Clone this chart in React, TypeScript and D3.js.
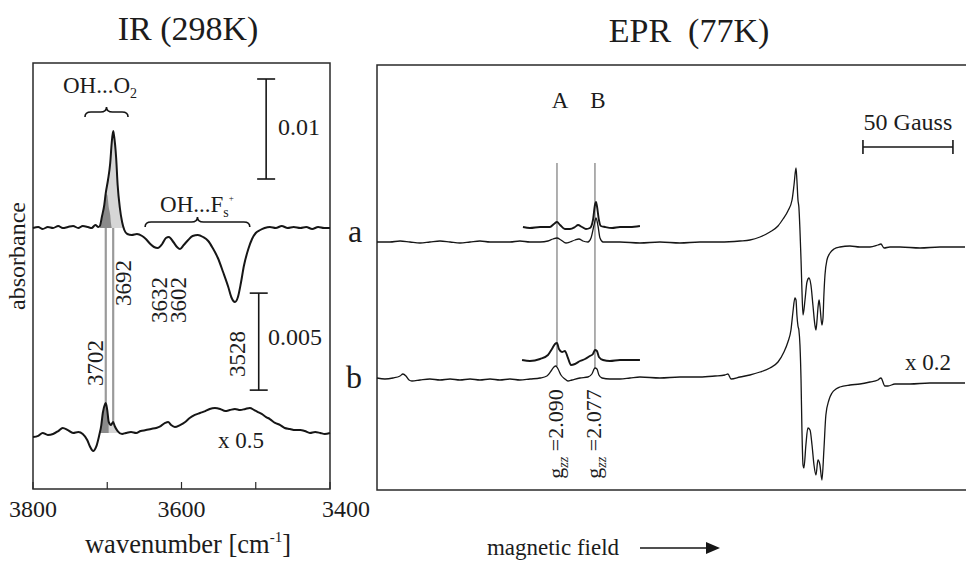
import React from "react";
import * as d3 from "d3";

const W = 966;
const H = 561;
const FONT = "'Liberation Serif', 'Times New Roman', serif";
const INK = "#161616";

// ---------- IR difference spectra (wavenumber cm-1, absorbance x 10^-3) ----------
const irTraceA: [number, number][] = [
  [3800, 0], [3793, 0.1], [3787, -0.1], [3780, 0.1], [3773, 0], [3766, 0.2], [3760, 0],
  [3753, 0.1], [3746, 0.2], [3739, 0], [3733, 0.2], [3726, 0.1], [3721, 0], [3716, 0.3],
  [3712, 0.1], [3710, 0.2], [3707, 1.2], [3704, 2.3], [3702, 3.5], [3699, 4.8], [3696, 6.5],
  [3694, 8.5], [3692, 9.7], [3691, 9.3], [3688, 7.0], [3686, 4.3], [3683, 2.0], [3680, 0.6],
  [3677, -0.2], [3673, -0.6], [3667, -0.7], [3660, -0.6], [3653, -0.8], [3648, -1.1],
  [3642, -1.6], [3637, -1.9], [3632, -2.0], [3626, -1.6], [3621, -1.0], [3617, -0.9],
  [3611, -1.4], [3606, -1.9], [3602, -2.1], [3597, -1.7], [3591, -1.2], [3585, -0.8],
  [3578, -0.7], [3571, -0.9], [3564, -1.3], [3558, -2.0], [3551, -3.0], [3544, -4.4],
  [3537, -5.9], [3533, -6.9], [3528, -7.4], [3524, -6.9], [3520, -5.5], [3516, -3.8],
  [3510, -2.1], [3505, -1.1], [3500, -0.5], [3494, -0.2], [3488, 0], [3481, 0.1], [3473, 0],
  [3465, 0.2], [3457, 0], [3449, 0.1], [3440, 0], [3432, 0.1], [3424, -0.1], [3416, 0.1],
  [3408, 0], [3400, 0],
];

// 3702 cm-1 component resolved under the main band of trace a
const irBandA3702: [number, number][] = [
  [3710, 0], [3707, 0.9], [3704, 2.2], [3702, 3.4], [3700, 3.3], [3699, 2.8], [3698, 2.1],
  [3696, 1.3], [3695, 0.5], [3694, 0],
];

const irTraceB: [number, number][] = [
  [3800, -0.21], [3793, -0.15], [3787, 0], [3780, -0.1], [3773, -0.05], [3766, 0.1],
  [3760, 0.26], [3753, 0.15], [3746, 0], [3739, 0.05], [3733, -0.05], [3727, -0.36],
  [3723, -0.72], [3719, -0.93], [3715, -0.72], [3711, -0.15], [3708, 0.41], [3706, 1.03],
  [3703, 1.49], [3702, 1.55], [3700, 1.18], [3698, 0.57], [3695, 0.41], [3692, 0.57],
  [3690, 0.36], [3686, 0.1], [3680, -0.05], [3675, 0], [3668, 0.05], [3661, 0], [3655, 0.1],
  [3648, 0.15], [3641, 0.21], [3634, 0.26], [3628, 0.36], [3622, 0.52], [3618, 0.57],
  [3614, 0.41], [3609, 0.31], [3602, 0.41], [3595, 0.57], [3589, 0.77], [3582, 0.93],
  [3575, 1.03], [3568, 1.13], [3562, 1.24], [3555, 1.29], [3548, 1.24], [3541, 1.13],
  [3535, 1.18], [3528, 1.24], [3521, 1.18], [3514, 1.24], [3508, 1.29], [3502, 1.18],
  [3497, 1.08], [3492, 0.98], [3486, 0.82], [3481, 0.72], [3474, 0.52], [3467, 0.41],
  [3461, 0.26], [3454, 0.21], [3447, 0.15], [3440, 0.15], [3434, 0.1], [3427, 0],
  [3420, 0.05], [3413, 0], [3407, -0.05], [3400, 0],
];

const irTicks = [3800, 3700, 3600, 3500, 3400];
const irTickLabels = [3800, 3600, 3400];
const irPeakLines = [3702, 3692];
const irScaleBarA = [4.9, 14.9]; // 0.01
const irScaleBarB = [2.21, 7.21]; // 0.005 (trace b)

// ---------- EPR spectra (magnetic field in G, derivative intensity, arb. units) ----------
const eprTraceA: [number, number][] = [
  [3130.0, 0], [3137.2, 0], [3142.8, 1], [3148.3, 0], [3153.9, -1], [3159.4, 0], [3165.0, 1],
  [3170.6, 0], [3176.1, -1], [3181.7, 0], [3187.2, 1], [3192.8, 0], [3198.3, 0], [3203.9, 0],
  [3209.4, 1], [3215.0, 0], [3220.6, 0], [3225.0, 1], [3227.8, 3], [3230.0, 4], [3232.2, 2],
  [3235.0, -1], [3237.2, 0], [3240.0, 2], [3242.2, 3], [3244.4, 1], [3247.2, 0], [3248.9, 4],
  [3250.6, 17], [3251.7, 24], [3252.8, 16], [3253.9, 4], [3255.6, 0], [3259.4, 0], [3265.0, 0],
  [3276.1, -1], [3287.2, 0], [3298.3, -1], [3309.4, 0], [3320.6, 0], [3331.7, 1], [3337.2, 2],
  [3342.8, 5], [3348.3, 10], [3352.8, 16], [3355.6, 23], [3358.3, 31], [3360.6, 42],
  [3361.7, 57], [3362.8, 74], [3363.3, 62], [3363.9, 42], [3364.4, 35], [3365.0, 12],
  [3365.6, -18], [3366.1, -48], [3366.7, -73], [3367.8, -58], [3368.9, -40], [3370.0, -36],
  [3371.1, -43], [3372.2, -63], [3373.3, -83], [3373.9, -88], [3374.4, -80], [3375.0, -66],
  [3375.6, -58], [3376.1, -64], [3377.2, -83], [3377.8, -76], [3378.3, -53], [3378.9, -33],
  [3380.0, -18], [3381.7, -11], [3383.9, -7], [3387.2, -5], [3392.8, -4], [3398.3, -5],
  [3403.9, -5], [3408.3, -3], [3410.0, -2], [3411.7, -6], [3415.0, -5], [3420.6, -5],
  [3431.7, -6], [3442.8, -5], [3456.7, -5],
];

const eprInsetA: [number, number][] = [
  [3211.1, 0], [3215.0, -1], [3220.6, 0], [3226.1, 0], [3228.3, 3], [3230.0, 5], [3231.7, 2],
  [3234.4, -2], [3237.2, -2], [3240.0, 0], [3241.7, 2], [3243.9, 0], [3246.1, -2], [3248.3, -1],
  [3250.0, 7], [3251.1, 22], [3251.7, 25], [3252.2, 21], [3253.3, 7], [3254.4, 1], [3256.7, 0],
  [3260.6, -1], [3265.0, 0], [3270.6, 0], [3276.1, 1],
];

const eprTraceB: [number, number][] = [
  [3130.0, 0], [3134.4, -1], [3138.9, 0], [3142.8, 2], [3144.4, 4], [3146.1, 2], [3147.8, -2],
  [3149.4, -3], [3153.9, -2], [3159.4, -1], [3165.0, -2], [3170.6, -1], [3176.1, -2],
  [3181.7, -1], [3187.2, -2], [3192.8, -1], [3198.3, -2], [3203.9, -1], [3209.4, -2],
  [3215.0, -1], [3220.6, 0], [3224.4, 2], [3226.7, 7], [3228.3, 11], [3229.4, 12], [3230.6, 9],
  [3232.2, 3], [3234.4, -1], [3236.1, -3], [3238.3, -2], [3242.8, 0], [3247.2, 1], [3249.4, 4],
  [3251.1, 10], [3252.2, 9], [3253.3, 3], [3255.0, 0], [3259.4, -1], [3265.0, -1], [3270.6, 0],
  [3276.1, 1], [3287.2, 0], [3298.3, 1], [3309.4, 1], [3317.8, 2], [3323.3, 3], [3325.0, 4],
  [3326.7, -1], [3331.7, 1], [3337.2, 3], [3342.8, 6], [3348.3, 10], [3352.8, 16], [3356.1, 26],
  [3358.3, 36], [3360.0, 48], [3361.1, 66], [3362.2, 80], [3362.8, 78], [3363.3, 63],
  [3363.9, 52], [3364.4, 48], [3365.0, 33], [3365.6, -2], [3366.1, -52], [3366.7, -87],
  [3367.2, -90], [3368.3, -67], [3369.4, -50], [3370.6, -52], [3371.7, -67], [3372.8, -87],
  [3373.9, -97], [3375.0, -82], [3376.1, -87], [3377.2, -102], [3378.3, -72], [3379.4, -37],
  [3381.1, -22], [3382.8, -15], [3385.0, -11], [3387.2, -9], [3392.8, -7], [3398.3, -6],
  [3403.9, -4], [3408.3, -2], [3410.0, 0], [3412.2, -8], [3413.9, -8], [3417.8, -6],
  [3426.1, -6], [3437.2, -5], [3448.3, -5], [3456.7, -5],
];

const eprInsetB: [number, number][] = [
  [3210.6, 0], [3215.0, -1], [3220.6, 1], [3225.0, 5], [3227.2, 11], [3228.9, 16], [3230.0, 17],
  [3231.1, 11], [3232.8, 8], [3234.4, 9], [3236.1, 2], [3237.8, -5], [3240.0, -4], [3242.8, -1],
  [3245.6, 1], [3248.3, 4], [3250.0, 6], [3251.1, 10], [3252.2, 9], [3253.3, 3], [3255.6, 0],
  [3259.4, -1], [3265.0, 0], [3270.6, 0], [3276.1, 0],
];

// vertical offsets of the stacked EPR traces
const eprOffsets = { a: 0, insetA: 15, b: -136, insetB: -118 };
const eprMarkers = [
  { name: "A", field: 3230.0, g: "2.090", end: -124 },
  { name: "B", field: 3251.1, g: "2.077", end: -126 },
];
const eprMarkerTop = 79;
const eprGaussBar = [3400, 3450];
const eprGaussBarLevel = 95;

function bracePath(x1: number, x2: number, y: number, h: number) {
  const xm = (x1 + x2) / 2;
  const r = 6;
  return `M${x1},${y + h} Q${x1},${y} ${x1 + r},${y} L${xm - r},${y} Q${xm},${y} ${xm},${y - h}` +
    ` Q${xm},${y} ${xm + r},${y} L${x2 - r},${y} Q${x2},${y} ${x2},${y + h}`;
}

export default function App() {
  // IR panel geometry
  const irL = 33, irR = 330, irT = 63, irB = 489;
  const xIR = d3.scaleLinear().domain([3800, 3400]).range([irL, irR]);
  const yA = d3.scaleLinear().domain([-26.1, 16.5]).range([irB, irT]);
  const yB = d3.scaleLinear().domain([-2.887, 19.072]).range([irB, irT]);

  const lineA = d3.line<[number, number]>().x(d => xIR(d[0])).y(d => yA(d[1])).curve(d3.curveMonotoneX);
  const lineB = d3.line<[number, number]>().x(d => xIR(d[0])).y(d => yB(d[1])).curve(d3.curveMonotoneX);
  const areaA = d3.area<[number, number]>().x(d => xIR(d[0])).y0(yA(0)).y1(d => yA(Math.max(0, d[1]))).curve(d3.curveMonotoneX);
  const areaB = d3.area<[number, number]>().x(d => xIR(d[0])).y0(yB(0)).y1(d => yB(Math.max(0, d[1]))).curve(d3.curveMonotoneX);

  const lightA = irTraceA.filter(d => d[0] <= 3710 && d[0] >= 3680);
  const darkB = irTraceB.filter(d => d[0] <= 3711 && d[0] >= 3698);
  const lightB = irTraceB.filter(d => d[0] <= 3698 && d[0] >= 3686);
  const bAt = (wn: number) => (irTraceB.find(d => d[0] === wn) || [wn, 0])[1];

  // EPR panel geometry (frame runs past the right edge of the page)
  const eL = 377, eR = 965, eT = 65, eB = 490;
  const xE = d3.scaleLinear().domain([3130, 3456.7]).range([eL, eR]);
  const yE = d3.scaleLinear().domain([-248, 177]).range([eB, eT]);
  const eprLine = (off: number) =>
    d3.line<[number, number]>().x(d => xE(d[0])).y(d => yE(d[1] + off)).curve(d3.curveMonotoneX);

  const text = { fontFamily: FONT, fill: "#1c1c1c" } as const;

  return (
    <svg width={W} height={H} style={{ position: "absolute", left: 0, top: 0, background: "#fff" }}>
      {/* ================= IR ================= */}
      <text x={188} y={40} fontSize={34} textAnchor="middle" {...text}>IR (298K)</text>
      <rect x={irL} y={irT} width={irR - irL} height={irB - irT} fill="none" stroke="#2a2a2a" strokeWidth={1.5} />
      {irTicks.map(t => (
        <line key={t} x1={xIR(t)} x2={xIR(t)} y1={irB} y2={irB - 7} stroke="#2a2a2a" strokeWidth={1.2} />
      ))}
      {irTickLabels.map((t, i) => (
        <text key={t} x={xIR(t) + (i === irTickLabels.length - 1 ? 16 : 0)} y={517} fontSize={24} textAnchor="middle" {...text}>{t}</text>
      ))}
      <text x={188} y={553} fontSize={26.5} textAnchor="middle" {...text}>
        wavenumber [cm<tspan fontSize={15} dy={-11}>-1</tspan><tspan dy={11}>]</tspan>
      </text>
      <text transform="translate(25,256) rotate(-90)" fontSize={24} textAnchor="middle" {...text}>absorbance</text>

      {/* shaded band components */}
      <path d={areaA(lightA) || ""} fill="#d6d6d6" />
      <path d={areaA(irBandA3702) || ""} fill="#8a8a8a" />
      <path d={areaB(lightB) || ""} fill="#d6d6d6" />
      <path d={areaB(darkB) || ""} fill="#8a8a8a" />

      {irPeakLines.map(wn => (
        <line key={wn} x1={xIR(wn)} x2={xIR(wn)} y1={yA(0)} y2={yB(bAt(wn))} stroke="#9a9a9a" strokeWidth={2.2} />
      ))}

      <path d={lineA(irTraceA) || ""} fill="none" stroke={INK} strokeWidth={2} strokeLinejoin="round" />
      <path d={lineB(irTraceB) || ""} fill="none" stroke={INK} strokeWidth={2} strokeLinejoin="round" />

      {/* braces and band assignments */}
      <path d={bracePath(xIR(3730), xIR(3672), yA(11.6), 5)} fill="none" stroke={INK} strokeWidth={1.6} />
      <text x={100} y={93} fontSize={23} textAnchor="middle" {...text}>
        OH...O<tspan fontSize={14} dy={5}>2</tspan>
      </text>
      <path d={bracePath(xIR(3649), xIR(3508), yA(0.6), 5)} fill="none" stroke={INK} strokeWidth={1.6} />
      <text x={197} y={212} fontSize={23} textAnchor="middle" {...text}>
        OH...F<tspan fontSize={14} dy={5}>s</tspan><tspan fontSize={9} dy={-16}>+</tspan>
      </text>

      {/* peak position labels */}
      <text transform={`translate(${xIR(3702) - 3},363) rotate(-90)`} fontSize={23} textAnchor="middle" {...text}>3702</text>
      <text transform={`translate(${xIR(3692) + 18},283) rotate(-90)`} fontSize={23} textAnchor="middle" {...text}>3692</text>
      <text transform={`translate(167,300) rotate(-90)`} fontSize={23} textAnchor="middle" {...text}>3632</text>
      <text transform={`translate(186,300) rotate(-90)`} fontSize={23} textAnchor="middle" {...text}>3602</text>
      <text transform={`translate(245,354) rotate(-90)`} fontSize={23} textAnchor="middle" {...text}>3528</text>

      {/* absorbance scale bars */}
      {[{ s: yA, v: irScaleBarA, x: xIR(3486), label: "0.01", ly: 135, lx: 278 },
        { s: yB, v: irScaleBarB, x: xIR(3496), label: "0.005", ly: 345, lx: 268 }].map(b => (
        <g key={b.label}>
          <line x1={b.x} x2={b.x} y1={b.s(b.v[0])} y2={b.s(b.v[1])} stroke={INK} strokeWidth={1.6} />
          <line x1={b.x - 9} x2={b.x + 9} y1={b.s(b.v[0])} y2={b.s(b.v[0])} stroke={INK} strokeWidth={1.6} />
          <line x1={b.x - 9} x2={b.x + 9} y1={b.s(b.v[1])} y2={b.s(b.v[1])} stroke={INK} strokeWidth={1.6} />
          <text x={b.lx} y={b.ly} fontSize={24} {...text}>{b.label}</text>
        </g>
      ))}
      <text x={218} y={448} fontSize={23} {...text}>x 0.5</text>

      {/* trace labels */}
      <text x={355} y={242} fontSize={32} textAnchor="middle" {...text}>a</text>
      <text x={354} y={388} fontSize={32} textAnchor="middle" {...text}>b</text>

      {/* ================= EPR ================= */}
      <text x={689} y={42} fontSize={34} textAnchor="middle" {...text}>EPR{"\u00A0\u00A0"}(77K)</text>
      <path d={`M${eR + 10},${eT} L${eL},${eT} L${eL},${eB} L${eR + 10},${eB}`} fill="none" stroke="#2a2a2a" strokeWidth={1.5} />

      {eprMarkers.map(m => (
        <g key={m.name}>
          <line x1={xE(m.field)} x2={xE(m.field)} y1={yE(eprMarkerTop)} y2={yE(m.end)} stroke="#7a7a7a" strokeWidth={1.2} />
          <text x={xE(m.field) + 3} y={108} fontSize={23} textAnchor="middle" {...text}>{m.name}</text>
          <text transform={`translate(${xE(m.field) + 6},434) rotate(-90)`} fontSize={22} textAnchor="middle" {...text}>
            g<tspan fontSize={14} fontStyle="italic" dy={5}>zz</tspan><tspan dy={-5}>{` =${m.g}`}</tspan>
          </text>
        </g>
      ))}

      <path d={eprLine(eprOffsets.a)(eprTraceA) || ""} fill="none" stroke={INK} strokeWidth={1.3} strokeLinejoin="round" />
      <path d={eprLine(eprOffsets.insetA)(eprInsetA) || ""} fill="none" stroke={INK} strokeWidth={1.9} strokeLinejoin="round" />
      <path d={eprLine(eprOffsets.b)(eprTraceB) || ""} fill="none" stroke={INK} strokeWidth={1.3} strokeLinejoin="round" />
      <path d={eprLine(eprOffsets.insetB)(eprInsetB) || ""} fill="none" stroke={INK} strokeWidth={1.9} strokeLinejoin="round" />

      {/* 50 G field scale */}
      <line x1={xE(eprGaussBar[0])} x2={xE(eprGaussBar[1])} y1={yE(eprGaussBarLevel)} y2={yE(eprGaussBarLevel)} stroke={INK} strokeWidth={1.6} />
      {eprGaussBar.map(f => (
        <line key={f} x1={xE(f)} x2={xE(f)} y1={yE(eprGaussBarLevel) - 7} y2={yE(eprGaussBarLevel) + 7} stroke={INK} strokeWidth={1.6} />
      ))}
      <text x={(xE(eprGaussBar[0]) + xE(eprGaussBar[1])) / 2} y={130} fontSize={24} textAnchor="middle" {...text}>50 Gauss</text>
      <text x={905} y={370} fontSize={23} {...text}>x 0.2</text>

      <text x={553} y={555} fontSize={23} textAnchor="middle" {...text}>magnetic field</text>
      <line x1={640} x2={708} y1={548} y2={548} stroke={INK} strokeWidth={1.6} />
      <path d="M706,542 L720,548 L706,554 Z" fill={INK} />
    </svg>
  );
}
